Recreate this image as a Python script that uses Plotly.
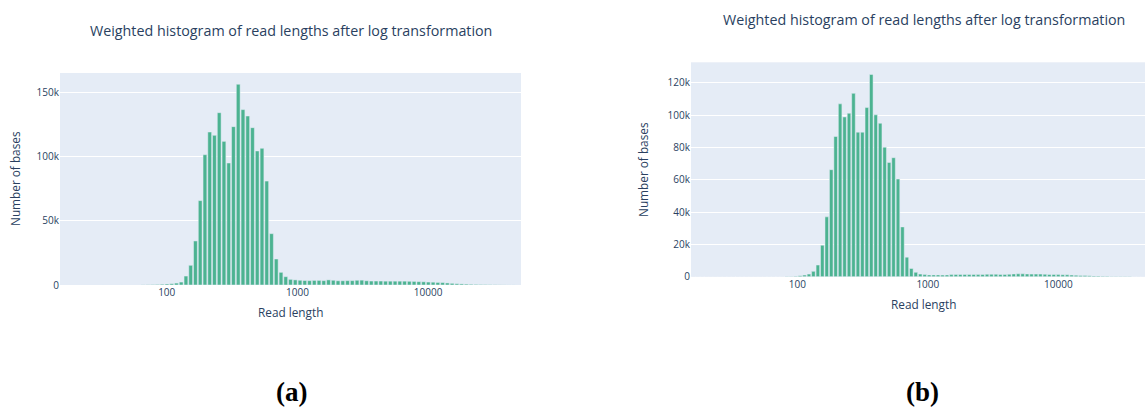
import numpy as np
import plotly.graph_objects as go

W, H = 1145, 410

# ---------------- data ----------------
# Sample (a): weighted histogram (number of bases per log10 read-length bin)
a_min_len = 14.63
a_max_len = 49240
a_counts = [
    0, 0, 0, 0, 0, 0, 0, 0, 0, 0,
    0, 0, 0, 0, 0, 0, 0, 100, 150, 250,
    400, 600, 800, 1000, 1500, 2300, 7000, 15400, 34400, 65900,
    101800, 119500, 116900, 134600, 112200, 95300, 123700, 156800, 137000, 132000,
    122900, 104700, 106800, 81200, 40100, 20300, 9900, 6500, 4400, 4000,
    3700, 3500, 3400, 3600, 3600, 3400, 4000, 3700, 3300, 3300,
    3400, 3400, 3700, 3800, 3300, 3100, 3100, 3100, 3000, 3000,
    3000, 3000, 3000, 2900, 2800, 2600, 2500, 2300, 2200, 2000,
    1900, 1600, 1300, 1000, 850, 700, 550, 450, 350, 280,
    200, 150, 100, 60, 40, 30, 20,
]

# Sample (b)
b_min_len = 14.73
b_max_len = 51960
b_counts = [
    0, 0, 0, 0, 0, 0, 0, 0, 0, 0,
    0, 0, 0, 0, 0, 0, 0, 0, 0, 0,
    0, 100, 200, 350, 600, 1000, 1600, 3300, 7200, 19500,
    37000, 66200, 86700, 106900, 98800, 101100, 113400, 89400, 89400, 104600,
    125100, 100100, 94900, 80100, 70700, 73600, 60400, 30800, 12100, 5100,
    2700, 1600, 1300, 1100, 1100, 1100, 1000, 1100, 1300, 1400,
    1400, 1400, 1400, 1400, 1300, 1400, 1500, 1500, 1500, 1400,
    1400, 1500, 1700, 1800, 1800, 1700, 1600, 1600, 1600, 1500,
    1400, 1400, 1300, 1200, 1200, 1000, 900, 800, 700, 600,
    500, 400, 350, 300, 200, 150, 100, 80, 50, 30,
    20, 10, 0, 0,
]

tick_lengths = [10, 100, 1000, 10000, 100000]
title_text = "Weighted histogram of read lengths after log transformation"
captions = ["(a)", "(b)"]

BAR_COLOR = "#4CB391"
TXT = "#2a3f5f"


def log_edges(min_len, max_len, n):
    return np.linspace(np.log10(min_len), np.log10(max_len), n + 1)


a_edges = log_edges(a_min_len, a_max_len, len(a_counts))
b_edges = log_edges(b_min_len, b_max_len, len(b_counts))
a_w = a_edges[1] - a_edges[0]
b_w = b_edges[1] - b_edges[0]


def px(x):
    return x / W


def py(y):
    return 1 - y / H


fig = go.Figure()
fig.add_trace(go.Bar(x=a_edges[1:], y=a_counts, marker_color=BAR_COLOR,
                     xaxis="x", yaxis="y", showlegend=False))
fig.add_trace(go.Bar(x=b_edges[1:], y=b_counts, marker_color=BAR_COLOR,
                     xaxis="x2", yaxis="y2", showlegend=False))

tickfont = dict(size=10, color=TXT)
xt = dict(tickmode="array", tickvals=np.log10(tick_lengths),
          ticktext=[str(t) for t in tick_lengths], tickangle=0,
          showgrid=False, zeroline=False, tickfont=tickfont, fixedrange=True,
          automargin=False)

# panel (b) is clipped at the right edge of the figure
b_left = b_edges[1] - b_w / 2
b_right = b_left + (1145 - 691) / 130.5

fig.update_layout(
    width=W, height=H,
    margin=dict(l=0, r=0, t=0, b=0, pad=0, autoexpand=False),
    paper_bgcolor="white",
    plot_bgcolor="#E5ECF6",
    bargap=0.2,
    font=dict(family="Open Sans, verdana, arial, sans-serif", color=TXT),
    xaxis=dict(domain=[px(60), px(521)],
               range=[a_edges[1] - a_w / 2, a_edges[-1] + a_w / 2],
               anchor="y", **xt),
    yaxis=dict(domain=[py(285), py(73)], range=[0, 165600], dtick=50000,
               anchor="x", gridcolor="white", zeroline=False, tickfont=tickfont,
               automargin=False),
    xaxis2=dict(domain=[px(691), 1.0], range=[b_left, b_right], anchor="y2", **xt),
    yaxis2=dict(domain=[py(276.7), py(62.3)], range=[0, 132600], dtick=20000,
                anchor="x2", gridcolor="white", zeroline=False, tickfont=tickfont,
                automargin=False),
)

ann = []
for cx, cy in [(291, 31), (924, 19)]:
    ann.append(dict(text=title_text, x=px(cx), y=py(cy), xref="paper", yref="paper",
                    showarrow=False, xanchor="center", yanchor="middle",
                    font=dict(size=14.3, color=TXT)))
for cx, cy in [(15, 179), (643, 170)]:
    ann.append(dict(text="Number of bases", x=px(cx), y=py(cy), xref="paper", yref="paper",
                    showarrow=False, xanchor="center", yanchor="middle", textangle=-90,
                    font=dict(size=11.8, color=TXT)))
for cx, cy in [(290, 312), (923, 304)]:
    ann.append(dict(text="Read length", x=px(cx), y=py(cy), xref="paper", yref="paper",
                    showarrow=False, xanchor="center", yanchor="middle",
                    font=dict(size=11.8, color=TXT)))
for cap, cx in zip(captions, [291, 922]):
    ann.append(dict(text="<b>" + cap + "</b>", x=px(cx), y=py(392), xref="paper", yref="paper",
                    showarrow=False, xanchor="center", yanchor="middle",
                    font=dict(size=27, color="black", family="Liberation Serif")))
fig.update_layout(annotations=ann)

fig.write_html("out.html", config={"displayModeBar": False})
